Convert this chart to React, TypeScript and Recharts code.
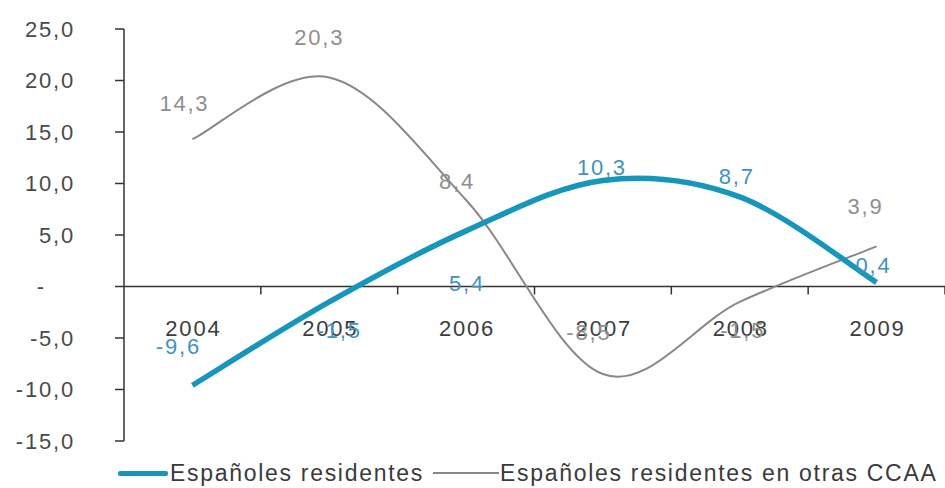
import React from 'react';
import { LineChart, Line, XAxis, YAxis, ReferenceLine, LabelList, Legend } from 'recharts';

// ---- data ----
const years = ['2004', '2005', '2006', '2007', '2008', '2009'];
const residentes = [-9.6, -1.5, 5.4, 10.3, 8.7, 0.4];
const residentesOtrasCCAA = [14.3, 20.3, 8.4, -8.5, -1.5, 3.9];
const yTicks = [-15, -10, -5, 0, 5, 10, 15, 20, 25];
const seriesNames = ['Españoles residentes', 'Españoles residentes en otras CCAA'];

const data = years.map((year, i) => ({
  year,
  residentes: residentes[i],
  otras: residentesOtrasCCAA[i],
}));

// ---- layout / style ----
const W = 945;
const H = 488;
const PLOT_LEFT = 124;
const PLOT_TOP = 29;
const PLOT_BOTTOM = 441;
const LEGEND_H = 30;
const Y_MIN = -15;
const Y_MAX = 25;
const BAND = (W - PLOT_LEFT) / years.length;
const ZERO_Y = PLOT_TOP + ((Y_MAX - 0) / (Y_MAX - Y_MIN)) * (PLOT_BOTTOM - PLOT_TOP);

const FONT = '"Liberation Sans", Arial, sans-serif';
const NUM_SIZE = 22;
const NUM_SPACING = 1.8;
const BLUE = '#1796bb';
const BLUE_TEXT = '#3f93bd';
const GREY = '#888888';
const GREY_TEXT = '#8e8e8e';
const AXIS = '#333333';

const fmt = (v: number) => v.toFixed(1).replace('.', ',');

// per-point label nudges [dx, dy] relative to the point
const NUDGE_BLUE: [number, number][] = [[-15, -39], [9, 28], [0, 52], [-2, -13], [-4, -21], [-4, -17]];
const NUDGE_GREY: [number, number][] = [[-9, -36], [-11, -40], [-10, -19], [-15, -42], [2, 28], [-12, -40]];

// Smooth curve through every point (cardinal/Catmull-Rom style bezier)
function smoothCurve(context: any) {
  let pts: [number, number][] = [];
  return {
    areaStart() {},
    areaEnd() {},
    lineStart() {
      pts = [];
    },
    point(x: number, y: number) {
      pts.push([+x, +y]);
    },
    lineEnd() {
      const n = pts.length;
      if (!n) return;
      context.moveTo(pts[0][0], pts[0][1]);
      for (let i = 0; i < n - 1; i++) {
        const p0 = pts[Math.max(0, i - 1)];
        const p1 = pts[i];
        const p2 = pts[i + 1];
        const p3 = pts[Math.min(n - 1, i + 2)];
        context.bezierCurveTo(
          p1[0] + (p2[0] - p0[0]) / 6,
          p1[1] + (p2[1] - p0[1]) / 6,
          p2[0] - (p3[0] - p1[0]) / 6,
          p2[1] - (p3[1] - p1[1]) / 6,
          p2[0],
          p2[1]
        );
      }
    },
  };
}

const XTick = (props: any) => {
  const { x, payload } = props;
  return (
    <g>
      <line x1={x + BAND / 2} x2={x + BAND / 2} y1={ZERO_Y} y2={ZERO_Y + 8} stroke={AXIS} strokeWidth={1.5} />
      <text
        x={x + 1}
        y={ZERO_Y + 42}
        dy="0.35em"
        textAnchor="middle"
        fontFamily={FONT}
        fontSize={NUM_SIZE}
        letterSpacing={NUM_SPACING}
        fill="#3c3c3c"
      >
        {payload.value}
      </text>
    </g>
  );
};

const YTick = (props: any) => {
  const { x, y, payload } = props;
  const v = payload.value as number;
  return (
    <text
      x={v === 0 ? x - 29 : x}
      y={y}
      dy="0.35em"
      textAnchor="end"
      fontFamily={FONT}
      fontSize={NUM_SIZE}
      letterSpacing={NUM_SPACING}
      fill="#4a4a4a"
    >
      {v === 0 ? '-' : fmt(v)}
    </text>
  );
};

const makeLabel = (nudge: [number, number][], color: string) => (props: any) => {
  const { x, y, value, index } = props;
  const [dx, dy] = nudge[index] || [0, -20];
  return (
    <text
      x={x + dx + 1}
      y={y + dy}
      dy="0.35em"
      textAnchor="middle"
      fontFamily={FONT}
      fontSize={NUM_SIZE}
      letterSpacing={NUM_SPACING}
      fill={color}
    >
      {fmt(value)}
    </text>
  );
};

const LegendContent = () => (
  <div
    style={{
      position: 'relative',
      height: LEGEND_H,
      fontFamily: FONT,
      fontSize: 23,
      letterSpacing: 1.7,
      color: '#3a3a3a',
      lineHeight: `${LEGEND_H}px`,
      whiteSpace: 'nowrap',
    }}
  >
    <div style={{ position: 'absolute', left: 118, top: 13, width: 50, height: 5, background: BLUE, borderRadius: 2 }} />
    <div style={{ position: 'absolute', left: 170, top: 0 }}>{seriesNames[0]}</div>
    <div style={{ position: 'absolute', left: 433, top: 14, width: 66, height: 2, background: GREY }} />
    <div style={{ position: 'absolute', left: 500, top: 0 }}>{seriesNames[1]}</div>
  </div>
);

export default function App() {
  return (
    <div style={{ position: 'absolute', left: 0, top: 0, width: W, height: H, background: '#ffffff' }}>
      <LineChart
        width={W}
        height={H}
        data={data}
        margin={{ top: PLOT_TOP, right: 0, left: 0, bottom: 0 }}
      >
        <XAxis
          dataKey="year"
          height={H - PLOT_BOTTOM - LEGEND_H}
          padding={{ left: BAND / 2, right: BAND / 2 }}
          axisLine={false}
          tickLine={false}
          tick={<XTick />}
          interval={0}
        />
        <YAxis
          domain={[Y_MIN, Y_MAX]}
          ticks={yTicks}
          width={PLOT_LEFT}
          tickSize={9}
          tickMargin={40}
          axisLine={{ stroke: AXIS, strokeWidth: 1.5 }}
          tickLine={{ stroke: AXIS, strokeWidth: 1.5 }}
          tick={<YTick />}
          interval={0}
          allowDataOverflow
        />
        <ReferenceLine y={0} stroke={AXIS} strokeWidth={1.5} />
        <Legend
          verticalAlign="bottom"
          align="left"
          height={LEGEND_H}
          wrapperStyle={{ left: 0, width: W }}
          content={<LegendContent />}
        />
        <Line
          dataKey="otras"
          name={seriesNames[1]}
          type={smoothCurve as any}
          stroke={GREY}
          strokeWidth={2}
          dot={false}
          activeDot={false}
          isAnimationActive={false}
        >
          <LabelList dataKey="otras" content={makeLabel(NUDGE_GREY, GREY_TEXT)} />
        </Line>
        <Line
          dataKey="residentes"
          name={seriesNames[0]}
          type={smoothCurve as any}
          stroke={BLUE}
          strokeWidth={5.5}
          dot={false}
          activeDot={false}
          isAnimationActive={false}
        >
          <LabelList dataKey="residentes" content={makeLabel(NUDGE_BLUE, BLUE_TEXT)} />
        </Line>
      </LineChart>
    </div>
  );
}
